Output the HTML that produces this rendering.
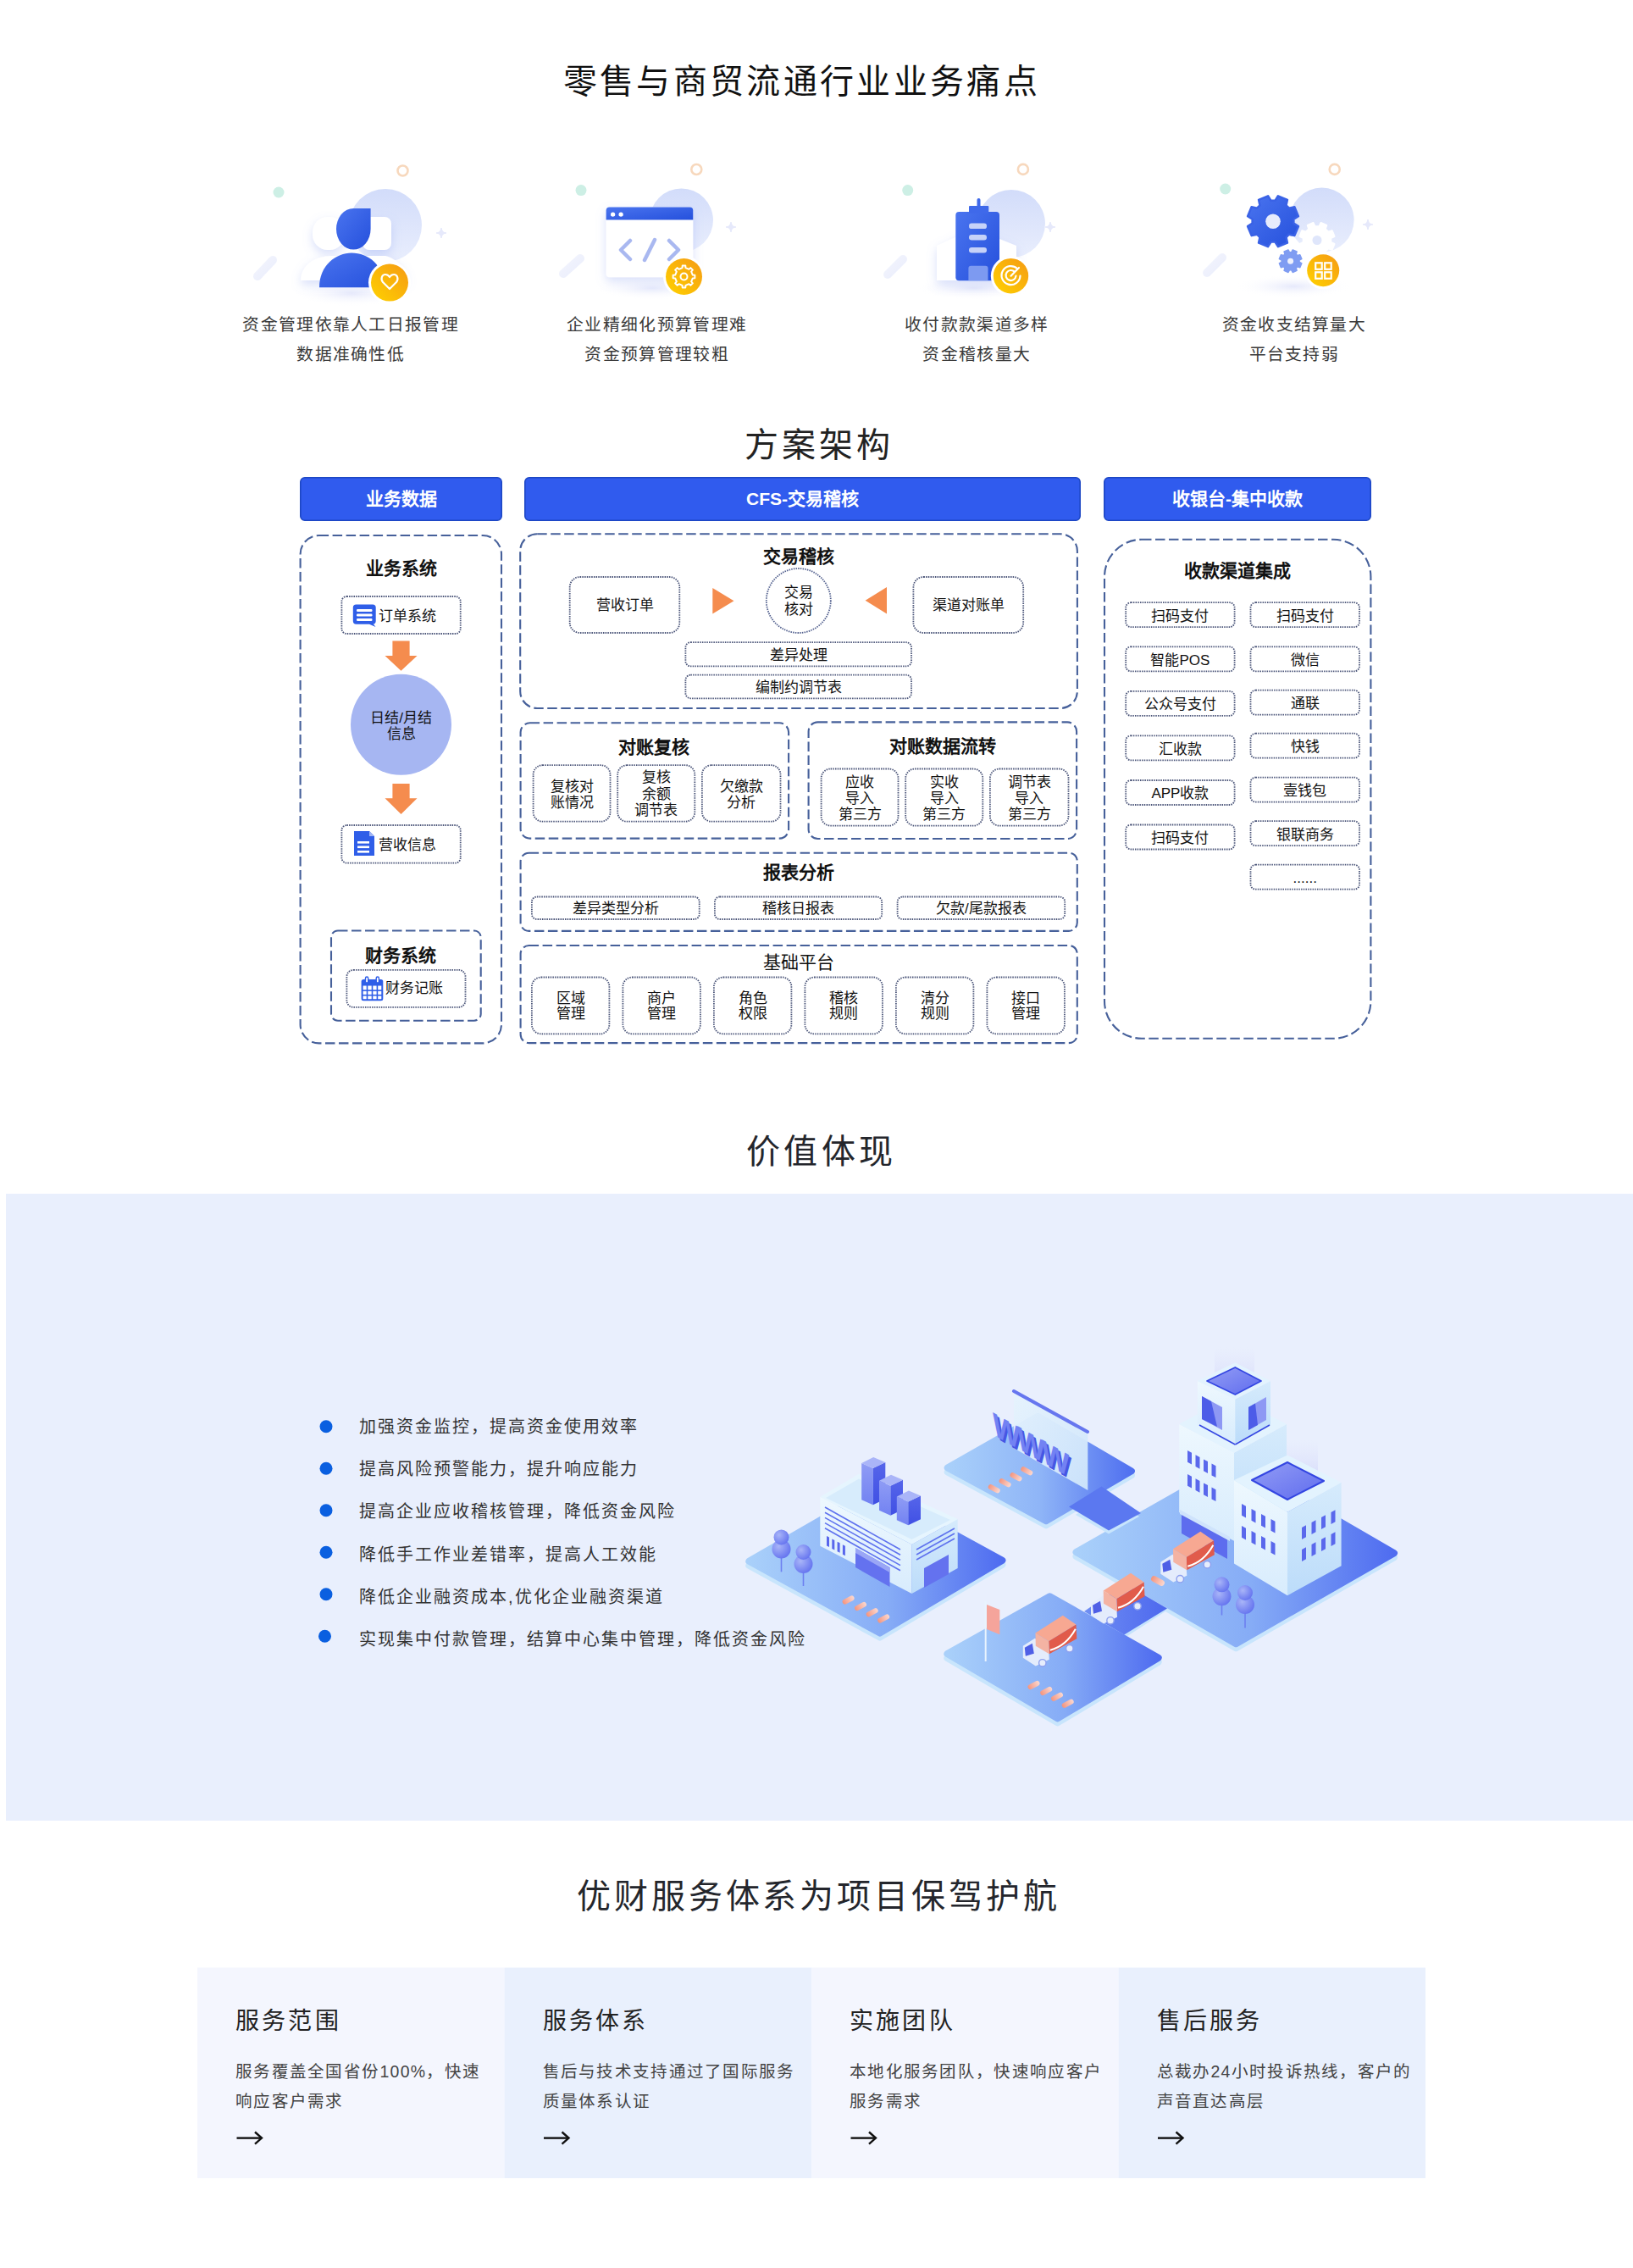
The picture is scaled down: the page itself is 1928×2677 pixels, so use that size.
<!DOCTYPE html>
<html lang="zh-CN"><head><meta charset="utf-8"><title>page</title>
<style>
html,body{margin:0;padding:0;background:#fff;}
body{width:1928px;height:2677px;position:relative;overflow:hidden;font-family:"Liberation Sans",sans-serif;}
.t{position:absolute;white-space:nowrap;}
svg.full{position:absolute;left:0;top:0;}
</style></head><body>
<svg class="full" width="1928" height="2677" viewBox="0 0 1928 2677">
<defs>
<linearGradient id="gBlue" x1="0" y1="0" x2="1" y2="1"><stop offset="0" stop-color="#4a74ef"/><stop offset="1" stop-color="#2550dc"/></linearGradient>
<linearGradient id="gOr" x1="0" y1="1" x2="1" y2="0"><stop offset="0" stop-color="#ffd200"/><stop offset="1" stop-color="#f59a14"/></linearGradient>
<linearGradient id="gPale" x1="0" y1="0" x2="0" y2="1"><stop offset="0" stop-color="#d2dcfa"/><stop offset="1" stop-color="#e9eefd"/></linearGradient>
<linearGradient id="gStreak" x1="0" y1="0" x2="1" y2="1"><stop offset="0" stop-color="#eef0fc"/><stop offset="1" stop-color="#dfe5fb"/></linearGradient>
<radialGradient id="gShadow" cx="0.5" cy="0.5" r="0.5"><stop offset="0" stop-color="#e6e9fb"/><stop offset="1" stop-color="#ffffff" stop-opacity="0"/></radialGradient>
<filter id="fSh" x="-30%" y="-30%" width="160%" height="160%"><feDropShadow dx="0" dy="5" stdDeviation="6" flood-color="#8a9ff0" flood-opacity="0.33"/></filter>
</defs><circle cx="475.5" cy="201.5" r="6" fill="none" stroke="#f7d8bd" stroke-width="2.6"/><circle cx="329" cy="227" r="6.5" fill="#cdefe5"/><circle cx="455" cy="266" r="43" fill="url(#gPale)"/><line x1="304" y1="326" x2="322" y2="307" stroke="url(#gStreak)" stroke-width="10" stroke-linecap="round" opacity="0.65"/><path d="M515,275 Q521,275 521,269 Q521,275 527,275 Q521,275 521,281 Q521,275 515,275 Z" fill="#e6e9fb" stroke="#e6e9fb" stroke-width="1.5"/><ellipse cx="415" cy="346" rx="70" ry="16" fill="url(#gShadow)"/><g filter="url(#fSh)"><path d="M355,331 C355,313 372,302 392,302 L455,302 C470,306 480,318 480,331 Z" fill="#fff"/><rect x="369" y="256" width="38" height="39" rx="18" fill="#fff"/><rect x="428" y="256" width="34" height="39" rx="8" fill="#fff"/></g><path d="M417.3,246 H437.6 V270.3 A20.3,24.3 0 0 1 417.3,294.6 A20.3,24.3 0 0 1 397,270.3 A20.3,24.3 0 0 1 417.3,246 Z" fill="url(#gBlue)"/><path d="M377,339.2 C377,313 397,298.6 415,298.6 C435,298.6 453.5,313 453.5,339.2 Z" fill="url(#gBlue)"/><circle cx="460" cy="333.6" r="25" fill="#fff"/><circle cx="460" cy="333.6" r="22" fill="url(#gOr)"/><path d="M452,333 C449,329 451,324 455,324 C458,324 460,327 460,327 C460,327 462,324 465,324 C469,324 471,329 468,333 L460,341 Z" fill="none" stroke="#fff" stroke-width="2.2" stroke-linejoin="round"/><circle cx="822.3" cy="200" r="6" fill="none" stroke="#f7d8bd" stroke-width="2.6"/><circle cx="686" cy="224.6" r="6.5" fill="#cdefe5"/><circle cx="804.5" cy="260" r="37.5" fill="url(#gPale)"/><line x1="665" y1="323" x2="685" y2="305" stroke="url(#gStreak)" stroke-width="10" stroke-linecap="round" opacity="0.65"/><path d="M857,268 Q863,268 863,262 Q863,268 869,268 Q863,268 863,274 Q863,268 857,268 Z" fill="#e6e9fb" stroke="#e6e9fb" stroke-width="1.5"/><ellipse cx="770" cy="340" rx="70" ry="14" fill="url(#gShadow)"/><rect x="715.6" y="244.5" width="102.7" height="82.8" rx="4" fill="#fff" filter="url(#fSh)"/><path d="M719.6,244.5 H814.3 A4,4 0 0 1 818.3,248.5 V259.5 H715.6 V248.5 A4,4 0 0 1 719.6,244.5 Z" fill="url(#gBlue)"/><circle cx="723.6" cy="253.2" r="2.6" fill="#fff"/><circle cx="733.1" cy="253.2" r="2.6" fill="#fff"/><path d="M744,284 L733,295 L744,306 M790,284 L801,295 L790,306 M773,283 L761,307" fill="none" stroke="#a9b8f0" stroke-width="4.5" stroke-linecap="round" stroke-linejoin="round"/><circle cx="807.5" cy="326.5" r="24.5" fill="#fff"/><circle cx="807.5" cy="326.5" r="21.5" fill="url(#gOr)"/><path d="M817.82,324.56 L820.38,324.72 L820.38,328.28 L817.82,328.44 L816.17,332.43 L817.87,334.35 L815.35,336.87 L813.43,335.17 L809.44,336.82 L809.28,339.38 L805.72,339.38 L805.56,336.82 L801.57,335.17 L799.65,336.87 L797.13,334.35 L798.83,332.43 L797.18,328.44 L794.62,328.28 L794.62,324.72 L797.18,324.56 L798.83,320.57 L797.13,318.65 L799.65,316.13 L801.57,317.83 L805.56,316.18 L805.72,313.62 L809.28,313.62 L809.44,316.18 L813.43,317.83 L815.35,316.13 L817.87,318.65 L816.17,320.57 Z" fill="none" stroke="#fff" stroke-width="2" stroke-linejoin="round"/><circle cx="807.5" cy="326.5" r="4" fill="none" stroke="#fff" stroke-width="2"/><circle cx="1207.9" cy="199.9" r="6" fill="none" stroke="#f7d8bd" stroke-width="2.6"/><circle cx="1071.7" cy="224.6" r="6.5" fill="#cdefe5"/><circle cx="1194" cy="264" r="40" fill="url(#gPale)"/><line x1="1048" y1="324" x2="1066" y2="306" stroke="url(#gStreak)" stroke-width="10" stroke-linecap="round" opacity="0.65"/><path d="M1234,268 Q1240,268 1240,262 Q1240,268 1246,268 Q1240,268 1240,274 Q1240,268 1234,268 Z" fill="#e6e9fb" stroke="#e6e9fb" stroke-width="1.5"/><ellipse cx="1150" cy="340" rx="70" ry="14" fill="url(#gShadow)"/><path d="M1106,331 V290 L1150,270 L1200,290 V331 Z" fill="#fff" filter="url(#fSh)"/><rect x="1128.3" y="250" width="51.7" height="81.2" rx="4" fill="url(#gBlue)"/><rect x="1144" y="243" width="23.3" height="9" rx="1" fill="#3f69ea"/><rect x="1153.5" y="234" width="4" height="11" rx="2" fill="#3f69ea"/><rect x="1144" y="263.6" width="21" height="6.5" rx="3.2" fill="#c6d2f8"/><rect x="1144" y="277" width="21" height="6.5" rx="3.2" fill="#c6d2f8"/><rect x="1144" y="292" width="21" height="6.5" rx="3.2" fill="#c6d2f8"/><path d="M1143.4,331.2 V316.7 A3,3 0 0 1 1146.4,313.7 H1163.5 A3,3 0 0 1 1166.5,316.7 V331.2 Z" fill="#7d9af1"/><circle cx="1193.5" cy="325.7" r="23.7" fill="#fff"/><circle cx="1193.5" cy="325.7" r="20.7" fill="url(#gOr)"/><path d="M1201,317 A11,11 0 1 0 1204.5,325.7 M1198,321 A6,6 0 1 0 1199.5,325.7 M1193.5,325.7 L1203,316" fill="none" stroke="#fff" stroke-width="2.2" stroke-linecap="round"/><circle cx="1575.7" cy="199.9" r="6" fill="none" stroke="#f7d8bd" stroke-width="2.6"/><circle cx="1446.7" cy="223" r="6.5" fill="#cdefe5"/><circle cx="1560.6" cy="259.6" r="38" fill="url(#gPale)"/><line x1="1425" y1="322" x2="1443" y2="304" stroke="url(#gStreak)" stroke-width="10" stroke-linecap="round" opacity="0.65"/><path d="M1609,265 Q1615,265 1615,259 Q1615,265 1621,265 Q1615,265 1615,271 Q1615,265 1609,265 Z" fill="#e6e9fb" stroke="#e6e9fb" stroke-width="1.5"/><ellipse cx="1527" cy="338" rx="70" ry="14" fill="url(#gShadow)"/><path d="M1571.30,286.03 L1575.51,288.00 L1572.69,294.82 L1568.32,293.24 L1564.74,296.82 L1566.32,301.19 L1559.50,304.01 L1557.53,299.80 L1552.47,299.80 L1550.50,304.01 L1543.68,301.19 L1545.26,296.82 L1541.68,293.24 L1537.31,294.82 L1534.49,288.00 L1538.70,286.03 L1538.70,280.97 L1534.49,279.00 L1537.31,272.18 L1541.68,273.76 L1545.26,270.18 L1543.68,265.81 L1550.50,262.99 L1552.47,267.20 L1557.53,267.20 L1559.50,262.99 L1566.32,265.81 L1564.74,270.18 L1568.32,273.76 L1572.69,272.18 L1575.51,279.00 L1571.30,280.97 Z" fill="#fff" stroke="#fff" stroke-width="2" stroke-linejoin="round"/><circle cx="1555" cy="283.5" r="5.5" fill="#dfe6fb"/><path d="M1527.38,263.60 L1532.91,267.15 L1528.36,278.14 L1521.94,276.74 L1518.54,280.14 L1519.94,286.56 L1508.95,291.11 L1505.40,285.58 L1500.60,285.58 L1497.05,291.11 L1486.06,286.56 L1487.46,280.14 L1484.06,276.74 L1477.64,278.14 L1473.09,267.15 L1478.62,263.60 L1478.62,258.80 L1473.09,255.25 L1477.64,244.26 L1484.06,245.66 L1487.46,242.26 L1486.06,235.84 L1497.05,231.29 L1500.60,236.82 L1505.40,236.82 L1508.95,231.29 L1519.94,235.84 L1518.54,242.26 L1521.94,245.66 L1528.36,244.26 L1532.91,255.25 L1527.38,258.80 Z" fill="url(#gBlue)" stroke="#3a62e6" stroke-width="2.5" stroke-linejoin="round"/><circle cx="1503" cy="261.2" r="8.8" fill="#e6ebfc"/><path d="M1534.05,309.23 L1536.84,310.83 L1534.82,315.70 L1531.72,314.86 L1530.26,316.32 L1531.10,319.42 L1526.23,321.44 L1524.63,318.65 L1522.57,318.65 L1520.97,321.44 L1516.10,319.42 L1516.94,316.32 L1515.48,314.86 L1512.38,315.70 L1510.36,310.83 L1513.15,309.23 L1513.15,307.17 L1510.36,305.57 L1512.38,300.70 L1515.48,301.54 L1516.94,300.08 L1516.10,296.98 L1520.97,294.96 L1522.57,297.75 L1524.63,297.75 L1526.23,294.96 L1531.10,296.98 L1530.26,300.08 L1531.72,301.54 L1534.82,300.70 L1536.84,305.57 L1534.05,307.17 Z" fill="#7f9cf2" stroke="#7f9cf2" stroke-width="1.5" stroke-linejoin="round"/><circle cx="1523.6" cy="308.2" r="3.5" fill="#eef1fd"/><circle cx="1562.2" cy="319.3" r="22" fill="#fff"/><circle cx="1562.2" cy="319.3" r="19" fill="url(#gOr)"/><rect x="1553.2" y="310.3" width="7.5" height="7.5" fill="none" stroke="#fff" stroke-width="2.2"/><rect x="1564.2" y="310.3" width="7.5" height="7.5" fill="none" stroke="#fff" stroke-width="2.2"/><rect x="1553.2" y="321.3" width="7.5" height="7.5" fill="none" stroke="#fff" stroke-width="2.2"/><rect x="1564.2" y="321.3" width="7.5" height="7.5" fill="none" stroke="#fff" stroke-width="2.2"/><rect x="354.8" y="563.8" width="237.4" height="50.4" rx="5" fill="#305bee" stroke="#1d47c4" stroke-width="1.6" /><rect x="619.8" y="563.8" width="655.4" height="50.4" rx="5" fill="#305bee" stroke="#1d47c4" stroke-width="1.6" /><rect x="1303.8" y="563.8" width="314.4" height="50.4" rx="5" fill="#305bee" stroke="#1d47c4" stroke-width="1.6" /><rect x="354.6" y="632.0" width="237.4" height="599.4" rx="22" fill="none" stroke="#46609a" stroke-width="2.1" stroke-dasharray="11.5 4.5" /><rect x="614.2" y="630.3" width="657.7" height="205.7" rx="20" fill="none" stroke="#46609a" stroke-width="2.1" stroke-dasharray="11.5 4.5" /><rect x="614.6" y="853.3" width="316.5" height="136.3" rx="11" fill="none" stroke="#46609a" stroke-width="2.1" stroke-dasharray="11.5 4.5" /><rect x="954.6" y="852.4" width="316.5" height="137.6" rx="11" fill="none" stroke="#46609a" stroke-width="2.1" stroke-dasharray="11.5 4.5" /><rect x="614.6" y="1006.7" width="657.2" height="92.2" rx="10" fill="none" stroke="#46609a" stroke-width="2.1" stroke-dasharray="11.5 4.5" /><rect x="614.6" y="1116.0" width="657.2" height="115.1" rx="10" fill="none" stroke="#46609a" stroke-width="2.1" stroke-dasharray="11.5 4.5" /><rect x="1304.0" y="636.8" width="314.4" height="589.0" rx="44" fill="none" stroke="#46609a" stroke-width="2.1" stroke-dasharray="11.5 4.5" /><rect x="391.0" y="1098.5" width="176.7" height="106.2" rx="8" fill="none" stroke="#46609a" stroke-width="2.1" stroke-dasharray="11.5 4.5" /><rect x="403.4" y="704.0" width="140.3" height="44.0" rx="6" fill="none" stroke="#4a5478" stroke-width="1.8" stroke-dasharray="1.5 1.2" /><rect x="403.4" y="974.0" width="140.3" height="44.6" rx="6" fill="none" stroke="#4a5478" stroke-width="1.8" stroke-dasharray="1.5 1.2" /><rect x="409.4" y="1144.8" width="140.1" height="44.1" rx="8" fill="none" stroke="#4a5478" stroke-width="1.8" stroke-dasharray="1.5 1.2" /><path d="M420.5,713.4 H440 A3.7,3.7 0 0 1 443.7,717.1 V733 A3.7,3.7 0 0 1 440,736.7 H441 L443.5,740 L436,736.7 H420.5 A3.7,3.7 0 0 1 416.8,733 V717.1 A3.7,3.7 0 0 1 420.5,713.4 Z" fill="#2f5ee8"/><rect x="421" y="719" width="18.5" height="3" rx="1.2" fill="#fff"/><rect x="421" y="724.5" width="18.5" height="3" rx="1.2" fill="#fff"/><rect x="421" y="730" width="18.5" height="3" rx="1.2" fill="#fff"/><path d="M418,981 H436 L442,987 V1010 H418 Z" fill="#2f5ee8"/><path d="M436,981 V987 H442" fill="#9fb4f5"/><rect x="422" y="993" width="14" height="2.6" fill="#fff"/><rect x="422" y="998.5" width="14" height="2.6" fill="#fff"/><rect x="422" y="1004" width="14" height="2.6" fill="#fff"/><rect x="427.6" y="1157" width="23.7" height="23.2" rx="1.5" fill="#fff" stroke="#2f5ee8" stroke-width="2"/><rect x="427.6" y="1157" width="23.7" height="6.5" fill="#2f5ee8"/><line x1="433.5" y1="1163" x2="433.5" y2="1180" stroke="#2f5ee8" stroke-width="1.6"/><line x1="439.5" y1="1163" x2="439.5" y2="1180" stroke="#2f5ee8" stroke-width="1.6"/><line x1="445.4" y1="1163" x2="445.4" y2="1180" stroke="#2f5ee8" stroke-width="1.6"/><line x1="427.6" y1="1169.1" x2="451.3" y2="1169.1" stroke="#2f5ee8" stroke-width="1.6"/><line x1="427.6" y1="1174.7" x2="451.3" y2="1174.7" stroke="#2f5ee8" stroke-width="1.6"/><rect x="431.5" y="1153" width="3.2" height="7" rx="1.6" fill="#fff" stroke="#2f5ee8" stroke-width="1.4"/><rect x="444.2" y="1153" width="3.2" height="7" rx="1.6" fill="#fff" stroke="#2f5ee8" stroke-width="1.4"/><path d="M463.4,756.6 H483.6 V774 H492.5 L473.5,791.8 L454.5,774 H463.4 Z" fill="#f58c4e"/><path d="M463.4,924.9 H483.6 V942.3 H492.5 L473.5,960.9 L454.5,942.3 H463.4 Z" fill="#f58c4e"/><circle cx="473.5" cy="855.3" r="59.5" fill="#a6b6f2"/><rect x="672.7" y="681.0" width="129.6" height="66.0" rx="12" fill="none" stroke="#4a5478" stroke-width="1.8" stroke-dasharray="1.5 1.2" /><rect x="1078.4" y="681.0" width="129.8" height="66.0" rx="12" fill="none" stroke="#4a5478" stroke-width="1.8" stroke-dasharray="1.5 1.2" /><circle cx="942.8" cy="709" r="38" fill="none" stroke="#52608e" stroke-width="1.8" stroke-dasharray="1.5 1.2"/><path d="M841.3,694 L866.5,709.2 L841.3,724.4 Z" fill="#f58c4e"/><path d="M1047,693 L1021.6,708.7 L1047,724.4 Z" fill="#f58c4e"/><rect x="809.4" y="758.2" width="266.6" height="28.2" rx="6" fill="none" stroke="#4a5478" stroke-width="1.8" stroke-dasharray="1.5 1.2" /><rect x="809.4" y="796.7" width="266.6" height="27.6" rx="6" fill="none" stroke="#4a5478" stroke-width="1.8" stroke-dasharray="1.5 1.2" /><rect x="629.6" y="903.2" width="90.9" height="66.5" rx="11" fill="none" stroke="#4a5478" stroke-width="1.8" stroke-dasharray="1.5 1.2" /><rect x="729.2" y="903.2" width="91.1" height="66.5" rx="11" fill="none" stroke="#4a5478" stroke-width="1.8" stroke-dasharray="1.5 1.2" /><rect x="828.9" y="903.2" width="92.6" height="66.5" rx="11" fill="none" stroke="#4a5478" stroke-width="1.8" stroke-dasharray="1.5 1.2" /><rect x="969.6" y="907.5" width="90.9" height="67.1" rx="11" fill="none" stroke="#4a5478" stroke-width="1.8" stroke-dasharray="1.5 1.2" /><rect x="1069.2" y="907.5" width="91.1" height="67.1" rx="11" fill="none" stroke="#4a5478" stroke-width="1.8" stroke-dasharray="1.5 1.2" /><rect x="1168.9" y="907.5" width="92.6" height="67.1" rx="11" fill="none" stroke="#4a5478" stroke-width="1.8" stroke-dasharray="1.5 1.2" /><rect x="627.9" y="1058.5" width="197.8" height="26.5" rx="6" fill="none" stroke="#4a5478" stroke-width="1.8" stroke-dasharray="1.5 1.2" /><rect x="843.9" y="1058.5" width="197.3" height="26.5" rx="6" fill="none" stroke="#4a5478" stroke-width="1.8" stroke-dasharray="1.5 1.2" /><rect x="1059.6" y="1058.5" width="197.6" height="26.5" rx="6" fill="none" stroke="#4a5478" stroke-width="1.8" stroke-dasharray="1.5 1.2" /><rect x="627.9" y="1153.5" width="91.5" height="66.9" rx="11" fill="none" stroke="#4a5478" stroke-width="1.8" stroke-dasharray="1.5 1.2" /><rect x="735.4" y="1153.5" width="91.5" height="66.9" rx="11" fill="none" stroke="#4a5478" stroke-width="1.8" stroke-dasharray="1.5 1.2" /><rect x="842.9" y="1153.5" width="91.5" height="66.9" rx="11" fill="none" stroke="#4a5478" stroke-width="1.8" stroke-dasharray="1.5 1.2" /><rect x="950.4" y="1153.5" width="91.5" height="66.9" rx="11" fill="none" stroke="#4a5478" stroke-width="1.8" stroke-dasharray="1.5 1.2" /><rect x="1057.9" y="1153.5" width="91.5" height="66.9" rx="11" fill="none" stroke="#4a5478" stroke-width="1.8" stroke-dasharray="1.5 1.2" /><rect x="1165.4" y="1153.5" width="91.5" height="66.9" rx="11" fill="none" stroke="#4a5478" stroke-width="1.8" stroke-dasharray="1.5 1.2" /><rect x="1329.2" y="711.2" width="128.4" height="29.0" rx="6" fill="none" stroke="#4a5478" stroke-width="1.8" stroke-dasharray="1.5 1.2" /><rect x="1329.2" y="763.3" width="128.4" height="29.0" rx="6" fill="none" stroke="#4a5478" stroke-width="1.8" stroke-dasharray="1.5 1.2" /><rect x="1329.2" y="815.8" width="128.4" height="29.0" rx="6" fill="none" stroke="#4a5478" stroke-width="1.8" stroke-dasharray="1.5 1.2" /><rect x="1329.2" y="868.3" width="128.4" height="29.0" rx="6" fill="none" stroke="#4a5478" stroke-width="1.8" stroke-dasharray="1.5 1.2" /><rect x="1329.2" y="921.0" width="128.4" height="29.0" rx="6" fill="none" stroke="#4a5478" stroke-width="1.8" stroke-dasharray="1.5 1.2" /><rect x="1329.2" y="973.5" width="128.4" height="29.0" rx="6" fill="none" stroke="#4a5478" stroke-width="1.8" stroke-dasharray="1.5 1.2" /><rect x="1476.5" y="711.2" width="128.5" height="29.0" rx="6" fill="none" stroke="#4a5478" stroke-width="1.8" stroke-dasharray="1.5 1.2" /><rect x="1476.5" y="763.3" width="128.5" height="29.0" rx="6" fill="none" stroke="#4a5478" stroke-width="1.8" stroke-dasharray="1.5 1.2" /><rect x="1476.5" y="814.7" width="128.5" height="29.0" rx="6" fill="none" stroke="#4a5478" stroke-width="1.8" stroke-dasharray="1.5 1.2" /><rect x="1476.5" y="865.7" width="128.5" height="29.0" rx="6" fill="none" stroke="#4a5478" stroke-width="1.8" stroke-dasharray="1.5 1.2" /><rect x="1476.5" y="917.6" width="128.5" height="29.0" rx="6" fill="none" stroke="#4a5478" stroke-width="1.8" stroke-dasharray="1.5 1.2" /><rect x="1476.5" y="969.2" width="128.5" height="29.0" rx="6" fill="none" stroke="#4a5478" stroke-width="1.8" stroke-dasharray="1.5 1.2" /><rect x="1476.5" y="1020.7" width="128.5" height="29.0" rx="6" fill="none" stroke="#4a5478" stroke-width="1.8" stroke-dasharray="1.5 1.2" /><rect x="7" y="1409" width="1921" height="740" fill="#e9effd"/><circle cx="385" cy="1683.8" r="7.5" fill="#0a5fe0"/><circle cx="385" cy="1733.3" r="7.5" fill="#0a5fe0"/><circle cx="385" cy="1782.8" r="7.5" fill="#0a5fe0"/><circle cx="385" cy="1832.3" r="7.5" fill="#0a5fe0"/><circle cx="385" cy="1881.8" r="7.5" fill="#0a5fe0"/><circle cx="383.5" cy="1931.3" r="7.5" fill="#0a5fe0"/><defs>
<linearGradient id="plat" x1="0" y1="0" x2="1" y2="0"><stop offset="0" stop-color="#a9d0fa"/><stop offset="0.55" stop-color="#86acf6"/><stop offset="1" stop-color="#4f6cf0"/></linearGradient>
<linearGradient id="platB" x1="0" y1="0" x2="1" y2="0"><stop offset="0" stop-color="#a9d0fa"/><stop offset="0.5" stop-color="#8fb5f7"/><stop offset="1" stop-color="#5070f0"/></linearGradient>
<linearGradient id="band" x1="0" y1="0" x2="1" y2="0"><stop offset="0" stop-color="#6f8ef3"/><stop offset="1" stop-color="#4d68ee"/></linearGradient>
<linearGradient id="wallL" x1="0" y1="0" x2="0" y2="1"><stop offset="0" stop-color="#eef8fe"/><stop offset="1" stop-color="#d8ecfd"/></linearGradient>
<linearGradient id="wallR" x1="0" y1="0" x2="0" y2="1"><stop offset="0" stop-color="#d6ebfc"/><stop offset="1" stop-color="#bcdcfa"/></linearGradient>
<linearGradient id="barL" x1="0" y1="0" x2="0" y2="1"><stop offset="0" stop-color="#8f9cf5"/><stop offset="1" stop-color="#7282f2"/></linearGradient>
<linearGradient id="barR" x1="0" y1="0" x2="0" y2="1"><stop offset="0" stop-color="#5665ea"/><stop offset="1" stop-color="#4050e4"/></linearGradient>
<linearGradient id="beam" x1="0" y1="0" x2="0" y2="1"><stop offset="0" stop-color="#dfe2fb" stop-opacity="0"/><stop offset="1" stop-color="#d3d7fa" stop-opacity="0.85"/></linearGradient>
<linearGradient id="glow" x1="0" y1="0" x2="1" y2="1"><stop offset="0" stop-color="#939df5"/><stop offset="1" stop-color="#5f6cee"/></linearGradient>
<linearGradient id="glass" x1="0" y1="0" x2="1" y2="1"><stop offset="0" stop-color="#e6f3fd"/><stop offset="1" stop-color="#cfe6fb"/></linearGradient>
<linearGradient id="pill" x1="0" y1="0" x2="1" y2="0"><stop offset="0" stop-color="#f4937c"/><stop offset="1" stop-color="#fbd9d2"/></linearGradient>
<radialGradient id="tree" cx="0.35" cy="0.35" r="0.7"><stop offset="0" stop-color="#a9b5f8"/><stop offset="1" stop-color="#6574ef"/></radialGradient>
</defs><polygon points="1270.5,1837.0 1459.3,1729.8 1646.0,1838.3 1459.3,1945.2" fill="#c8e5fc" stroke="#c8e5fc" stroke-width="8" stroke-linejoin="round"/><polygon points="1270.5,1832.0 1459.3,1724.8 1646.0,1833.3 1459.3,1940.2" fill="url(#plat)" stroke="url(#plat)" stroke-width="8" stroke-linejoin="round"/><polygon points="1270.5,1832.0 1459.3,1724.8 1646.0,1833.3 1459.3,1940.2" fill="none" stroke="#bfe0fc" stroke-width="1" stroke-linejoin="round" opacity="0"/><polygon points="1118.7,1737.4 1225.4,1676.8 1335.9,1741.4 1235.0,1800.2" fill="#c8e5fc" stroke="#c8e5fc" stroke-width="8" stroke-linejoin="round"/><polygon points="1118.7,1732.4 1225.4,1671.8 1335.9,1736.4 1235.0,1795.2" fill="url(#platB)" stroke="url(#platB)" stroke-width="8" stroke-linejoin="round"/><polygon points="1118.7,1732.4 1225.4,1671.8 1335.9,1736.4 1235.0,1795.2" fill="none" stroke="#bfe0fc" stroke-width="1" stroke-linejoin="round" opacity="0"/><polygon points="1269.8,1787.9 1308.3,1763.9 1345.0,1790.0 1309.0,1810.6" fill="#c8e5fc" /><polygon points="1262.0,1778.5 1300.5,1754.5 1347.0,1786.0 1309.0,1806.6" fill="#5b78f0" /><polygon points="1280.0,1906.0 1327.3,1873.0 1376.7,1901.5 1327.3,1933.5" fill="#c5e3fc" /><polygon points="1118.4,1957.1 1239.4,1889.2 1367.7,1961.7 1248.6,2033.4" fill="#c8e5fc" stroke="#c8e5fc" stroke-width="8" stroke-linejoin="round"/><polygon points="1118.4,1952.1 1239.4,1884.2 1367.7,1956.7 1248.6,2028.4" fill="url(#plat)" stroke="url(#plat)" stroke-width="8" stroke-linejoin="round"/><polygon points="1118.4,1952.1 1239.4,1884.2 1367.7,1956.7 1248.6,2028.4" fill="none" stroke="#bfe0fc" stroke-width="1" stroke-linejoin="round" opacity="0"/><polygon points="1280.0,1902.0 1327.3,1869.0 1378.0,1898.5 1327.3,1929.5" fill="url(#band)" /><polygon points="884.3,1847.8 1030.8,1763.3 1183.4,1846.8 1038.8,1932.6" fill="#c8e5fc" stroke="#c8e5fc" stroke-width="8" stroke-linejoin="round"/><polygon points="884.3,1842.8 1030.8,1758.3 1183.4,1841.8 1038.8,1927.6" fill="url(#plat)" stroke="url(#plat)" stroke-width="8" stroke-linejoin="round"/><polygon points="884.3,1842.8 1030.8,1758.3 1183.4,1841.8 1038.8,1927.6" fill="none" stroke="#bfe0fc" stroke-width="1" stroke-linejoin="round" opacity="0"/><rect x="994.1" y="1885.6" width="15" height="6" rx="3.0" transform="rotate(-28 1001.6 1888.6)" fill="url(#pill)"/><rect x="1008.5" y="1893.0" width="15" height="6" rx="3.0" transform="rotate(-28 1016 1896)" fill="url(#pill)"/><rect x="1022.2" y="1900.2" width="15" height="6" rx="3.0" transform="rotate(-28 1029.7 1903.2)" fill="url(#pill)"/><rect x="1035.7" y="1907.5" width="15" height="6" rx="3.0" transform="rotate(-28 1043.2 1910.5)" fill="url(#pill)"/><rect x="1166.2" y="1754.2" width="15" height="6" rx="3.0" transform="rotate(28 1173.7 1757.2)" fill="url(#pill)"/><rect x="1179.1" y="1747.2" width="15" height="6" rx="3.0" transform="rotate(28 1186.6 1750.2)" fill="url(#pill)"/><rect x="1192.0" y="1740.2" width="15" height="6" rx="3.0" transform="rotate(28 1199.5 1743.2)" fill="url(#pill)"/><rect x="1204.8" y="1733.2" width="15" height="6" rx="3.0" transform="rotate(28 1212.3 1736.2)" fill="url(#pill)"/><rect x="1213.0" y="1986.1" width="15" height="6" rx="3.0" transform="rotate(-28 1220.5 1989.1)" fill="url(#pill)"/><rect x="1227.7" y="1993.0" width="15" height="6" rx="3.0" transform="rotate(-28 1235.2 1996)" fill="url(#pill)"/><rect x="1240.5" y="1999.8" width="15" height="6" rx="3.0" transform="rotate(-28 1248 2002.8)" fill="url(#pill)"/><rect x="1253.2" y="2007.7" width="15" height="6" rx="3.0" transform="rotate(-28 1260.7 2010.7)" fill="url(#pill)"/><rect x="1358.5" y="1862.5" width="17" height="7" rx="3.5" transform="rotate(28 1367 1866)" fill="url(#pill)"/><polygon points="968.3,1766.8 1076.5,1823.0 1076.5,1881.0 968.3,1824.8" fill="url(#wallL)" /><polygon points="1076.5,1823.0 1130.7,1792.9 1130.7,1850.9 1076.5,1881.0" fill="url(#wallR)" /><polygon points="968.3,1766.8 1014.0,1739.8 1130.7,1792.9 1076.5,1823.0" fill="#e6f5fe" /><polygon points="975.0,1768.0 1014.0,1745.5 1122.0,1794.0 1076.5,1817.0" fill="#d7ecfc" /><line x1="974" y1="1779.0" x2="1063" y2="1829.0" stroke="#5f72ee" stroke-width="1.6"/><line x1="974" y1="1785.2" x2="1063" y2="1835.2" stroke="#5f72ee" stroke-width="1.6"/><line x1="974" y1="1791.4" x2="1063" y2="1841.4" stroke="#5f72ee" stroke-width="1.6"/><line x1="974" y1="1797.6" x2="1063" y2="1847.6" stroke="#5f72ee" stroke-width="1.6"/><line x1="974" y1="1803.8" x2="1063" y2="1853.8" stroke="#5f72ee" stroke-width="1.6"/><line x1="1082" y1="1829.0" x2="1127" y2="1804.0" stroke="#5f72ee" stroke-width="1.6"/><line x1="1082" y1="1835.0" x2="1127" y2="1810.0" stroke="#5f72ee" stroke-width="1.6"/><line x1="1082" y1="1841.0" x2="1127" y2="1816.0" stroke="#5f72ee" stroke-width="1.6"/><polygon points="976.0,1813.0 979.0,1814.5 979.0,1826.0 976.0,1824.5" fill="#5866ec" /><polygon points="982.3,1816.4 985.3,1817.9 985.3,1829.4 982.3,1827.9" fill="#5866ec" /><polygon points="988.6,1819.8 991.6,1821.3 991.6,1832.8 988.6,1831.3" fill="#5866ec" /><polygon points="994.9,1823.2 997.9,1824.7 997.9,1836.2 994.9,1834.7" fill="#5866ec" /><polygon points="1010.0,1827.0 1050.5,1850.0 1050.5,1873.0 1010.0,1850.0" fill="#6472ef" /><polygon points="1010.0,1827.0 1050.5,1850.0 1050.5,1856.0 1010.0,1833.0" fill="#9aa6f6" /><polygon points="1091.0,1851.0 1120.0,1835.0 1120.0,1858.0 1091.0,1874.0" fill="#6472ef" /><polygon points="1017.2,1727.0 1030.7,1733.0 1030.7,1776.2 1017.2,1770.2" fill="url(#barL)" /><polygon points="1030.7,1733.0 1045.3,1726.0 1045.3,1769.2 1030.7,1776.2" fill="url(#barR)" /><polygon points="1017.2,1727.0 1031.2,1720.0 1045.3,1726.0 1030.7,1733.0" fill="#aab5f8" /><polygon points="1038.0,1747.8 1051.4,1753.8 1051.4,1788.7 1038.0,1782.7" fill="url(#barL)" /><polygon points="1051.4,1753.8 1066.0,1746.8 1066.0,1781.7 1051.4,1788.7" fill="url(#barR)" /><polygon points="1038.0,1747.8 1052.0,1740.8 1066.0,1746.8 1051.4,1753.8" fill="#aab5f8" /><polygon points="1058.8,1766.6 1072.3,1772.6 1072.3,1800.2 1058.8,1794.2" fill="url(#barL)" /><polygon points="1072.3,1772.6 1087.0,1765.6 1087.0,1793.2 1072.3,1800.2" fill="url(#barR)" /><polygon points="1058.8,1766.6 1072.9,1759.6 1087.0,1765.6 1072.3,1772.6" fill="#aab5f8" /><polygon points="1196.9,1641.4 1284.3,1689.4 1284.3,1758.9 1196.9,1709.2" fill="url(#glass)" opacity="0.95"/><line x1="1197" y1="1642" x2="1284" y2="1690" stroke="#6676ef" stroke-width="4" stroke-linecap="round"/><g transform="translate(1172,1664) skewY(30)"><text x="3" y="31" font-family="Liberation Sans" font-weight="bold" font-size="38" fill="#4656e4" transform="scale(0.9,1)">W</text><text x="0" y="29" font-family="Liberation Sans" font-weight="bold" font-size="38" fill="#7282f3" transform="scale(0.9,1)">W</text></g><g transform="translate(1201,1680) skewY(30)"><text x="3" y="31" font-family="Liberation Sans" font-weight="bold" font-size="38" fill="#4656e4" transform="scale(0.9,1)">W</text><text x="0" y="29" font-family="Liberation Sans" font-weight="bold" font-size="38" fill="#7282f3" transform="scale(0.9,1)">W</text></g><g transform="translate(1230,1696) skewY(30)"><text x="3" y="31" font-family="Liberation Sans" font-weight="bold" font-size="38" fill="#4656e4" transform="scale(0.9,1)">W</text><text x="0" y="29" font-family="Liberation Sans" font-weight="bold" font-size="38" fill="#7282f3" transform="scale(0.9,1)">W</text></g><polygon points="1434.0,1590.0 1481.0,1590.0 1481.0,1640.0 1434.0,1640.0" fill="url(#beam)" /><polygon points="1486.0,1700.0 1556.0,1700.0 1556.0,1745.0 1486.0,1745.0" fill="url(#beam)" /><polygon points="1392.2,1681.0 1457.0,1714.7 1457.0,1818.7 1392.2,1785.0" fill="url(#wallL)" /><polygon points="1457.0,1714.7 1519.0,1681.0 1519.0,1785.0 1457.0,1818.7" fill="url(#wallR)" /><polygon points="1392.2,1681.0 1454.2,1647.3 1519.0,1681.0 1457.0,1714.7" fill="#e3f3fe" /><polygon points="1395.0,1787.0 1449.0,1817.0 1449.0,1840.0 1395.0,1810.0" fill="#5d6cee" /><polygon points="1393.0,1782.0 1452.0,1814.0 1452.0,1819.0 1393.0,1787.0" fill="#cfe3fc" /><polygon points="1402.0,1712.0 1407.0,1714.7 1407.0,1728.5 1402.0,1725.8" fill="#5a68ec" /><polygon points="1411.5,1717.2 1416.5,1719.9 1416.5,1733.7 1411.5,1731.0" fill="#5a68ec" /><polygon points="1421.0,1722.4 1426.0,1725.1 1426.0,1738.9 1421.0,1736.2" fill="#5a68ec" /><polygon points="1430.5,1727.6 1435.5,1730.3 1435.5,1744.1 1430.5,1741.4" fill="#5a68ec" /><polygon points="1402.0,1740.0 1407.0,1742.7 1407.0,1756.5 1402.0,1753.8" fill="#5a68ec" /><polygon points="1411.5,1745.2 1416.5,1747.9 1416.5,1761.7 1411.5,1759.0" fill="#5a68ec" /><polygon points="1421.0,1750.4 1426.0,1753.1 1426.0,1766.9 1421.0,1764.2" fill="#5a68ec" /><polygon points="1430.5,1755.6 1435.5,1758.3 1435.5,1772.1 1430.5,1769.4" fill="#5a68ec" /><polygon points="1413.8,1629.9 1458.3,1651.4 1458.3,1703.4 1413.8,1681.9" fill="url(#wallL)" /><polygon points="1458.3,1651.4 1500.0,1629.9 1500.0,1681.9 1458.3,1703.4" fill="url(#wallR)" /><polygon points="1413.8,1629.9 1458.3,1608.3 1500.0,1629.9 1458.3,1651.4" fill="#e3f3fe" /><polygon points="1425.0,1630.0 1458.3,1614.0 1489.0,1630.0 1458.3,1646.0" fill="url(#glow)" stroke="#3446e2" stroke-width="1.8" stroke-linejoin="round"/><polygon points="1419.0,1648.0 1443.0,1661.0 1443.0,1688.0 1419.0,1675.0" fill="#8e98f4" /><polygon points="1419.0,1648.0 1430.0,1654.0 1437.0,1684.0 1419.0,1675.0" fill="#4d5ce8" /><polygon points="1474.0,1661.0 1495.0,1649.0 1495.0,1676.0 1474.0,1688.0" fill="#8e98f4" /><polygon points="1474.0,1661.0 1482.0,1656.5 1485.0,1682.0 1474.0,1688.0" fill="#4d5ce8" /><line x1="1416" y1="1682" x2="1458.3" y2="1705" stroke="#3446e2" stroke-width="1.5"/><line x1="1458.3" y1="1705" x2="1499" y2="1682" stroke="#3446e2" stroke-width="1.5"/><polygon points="1457.0,1747.0 1520.0,1784.8 1520.0,1883.2 1457.0,1845.4" fill="url(#wallL)" /><polygon points="1520.0,1784.8 1583.6,1749.8 1583.6,1848.2 1520.0,1883.2" fill="url(#wallR)" /><polygon points="1457.0,1747.0 1520.0,1717.4 1583.6,1749.8 1520.0,1784.8" fill="#e3f3fe" /><polygon points="1478.0,1747.0 1520.0,1726.0 1563.0,1748.0 1520.0,1770.0" fill="url(#glow)" stroke="#3446e2" stroke-width="2" stroke-linejoin="round"/><polygon points="1466.0,1775.0 1471.0,1777.7 1471.0,1791.5 1466.0,1788.8" fill="#5a68ec" /><polygon points="1537.0,1803.0 1542.0,1800.3 1542.0,1814.3 1537.0,1817.0" fill="#5a68ec" /><polygon points="1477.5,1781.0 1482.5,1783.7 1482.5,1797.5 1477.5,1794.8" fill="#5a68ec" /><polygon points="1548.5,1797.0 1553.5,1794.3 1553.5,1808.3 1548.5,1811.0" fill="#5a68ec" /><polygon points="1489.0,1787.0 1494.0,1789.7 1494.0,1803.5 1489.0,1800.8" fill="#5a68ec" /><polygon points="1560.0,1791.0 1565.0,1788.3 1565.0,1802.3 1560.0,1805.0" fill="#5a68ec" /><polygon points="1500.5,1793.0 1505.5,1795.7 1505.5,1809.5 1500.5,1806.8" fill="#5a68ec" /><polygon points="1571.5,1785.0 1576.5,1782.3 1576.5,1796.3 1571.5,1799.0" fill="#5a68ec" /><polygon points="1466.0,1801.0 1471.0,1803.7 1471.0,1817.5 1466.0,1814.8" fill="#5a68ec" /><polygon points="1537.0,1829.0 1542.0,1826.3 1542.0,1840.3 1537.0,1843.0" fill="#5a68ec" /><polygon points="1477.5,1807.0 1482.5,1809.7 1482.5,1823.5 1477.5,1820.8" fill="#5a68ec" /><polygon points="1548.5,1823.0 1553.5,1820.3 1553.5,1834.3 1548.5,1837.0" fill="#5a68ec" /><polygon points="1489.0,1813.0 1494.0,1815.7 1494.0,1829.5 1489.0,1826.8" fill="#5a68ec" /><polygon points="1560.0,1817.0 1565.0,1814.3 1565.0,1828.3 1560.0,1831.0" fill="#5a68ec" /><polygon points="1500.5,1819.0 1505.5,1821.7 1505.5,1835.5 1500.5,1832.8" fill="#5a68ec" /><polygon points="1571.5,1811.0 1576.5,1808.3 1576.5,1822.3 1571.5,1825.0" fill="#5a68ec" /><polygon points="1207.8,1942.8 1221.8,1933.8 1237.8,1943.8 1238.8,1958.8 1222.8,1966.6 1207.8,1956.8" fill="#e4ecfc" /><polygon points="1209.8,1944.8 1218.8,1939.8 1220.8,1951.8 1210.8,1954.8" fill="#4f5fe6" /><polygon points="1222.5,1927.4 1254.8,1906.8 1270.5,1917.6 1238.2,1937.2" fill="#f7a892" /><polygon points="1238.2,1937.2 1270.5,1917.6 1271.3,1934.3 1238.8,1952.3" fill="#e15b4b" /><polygon points="1222.5,1927.4 1238.2,1937.2 1238.8,1952.3 1222.8,1942.8" fill="#f4b3a3" /><path d="M1239.8,1947.8 Q1258.8,1942.8 1269.8,1922.8" fill="none" stroke="#fff" stroke-width="2"/><circle cx="1230.8" cy="1962.8" r="4.2" fill="#e6edfc" stroke="#8ea0ef" stroke-width="1.4"/><circle cx="1262.8" cy="1945.8" r="4.2" fill="#e6edfc" stroke="#8ea0ef" stroke-width="1.4"/><polygon points="1288.0,1892.8 1302.0,1883.8 1318.0,1893.8 1319.0,1908.8 1303.0,1916.6 1288.0,1906.8" fill="#e4ecfc" /><polygon points="1290.0,1894.8 1299.0,1889.8 1301.0,1901.8 1291.0,1904.8" fill="#4f5fe6" /><polygon points="1302.7,1877.4 1335.0,1856.8 1350.7,1867.6 1318.4,1887.2" fill="#f7a892" /><polygon points="1318.4,1887.2 1350.7,1867.6 1351.5,1884.3 1319.0,1902.3" fill="#e15b4b" /><polygon points="1302.7,1877.4 1318.4,1887.2 1319.0,1902.3 1303.0,1892.8" fill="#f4b3a3" /><path d="M1320,1897.8 Q1339,1892.8 1350,1872.8" fill="none" stroke="#fff" stroke-width="2"/><circle cx="1311" cy="1912.8" r="4.2" fill="#e6edfc" stroke="#8ea0ef" stroke-width="1.4"/><circle cx="1343" cy="1895.8" r="4.2" fill="#e6edfc" stroke="#8ea0ef" stroke-width="1.4"/><polygon points="1370.3,1843.7 1384.3,1834.7 1400.3,1844.7 1401.3,1859.7 1385.3,1867.5 1370.3,1857.7" fill="#e4ecfc" /><polygon points="1372.3,1845.7 1381.3,1840.7 1383.3,1852.7 1373.3,1855.7" fill="#4f5fe6" /><polygon points="1385.0,1828.3 1417.3,1807.7 1433.0,1818.5 1400.7,1838.1" fill="#f7a892" /><polygon points="1400.7,1838.1 1433.0,1818.5 1433.8,1835.2 1401.3,1853.2" fill="#e15b4b" /><polygon points="1385.0,1828.3 1400.7,1838.1 1401.3,1853.2 1385.3,1843.7" fill="#f4b3a3" /><path d="M1402.3,1848.7 Q1421.3,1843.7 1432.3,1823.7" fill="none" stroke="#fff" stroke-width="2"/><circle cx="1393.3" cy="1863.7" r="4.2" fill="#e6edfc" stroke="#8ea0ef" stroke-width="1.4"/><circle cx="1425.3" cy="1846.7" r="4.2" fill="#e6edfc" stroke="#8ea0ef" stroke-width="1.4"/><line x1="1163.7" y1="1890" x2="1163.7" y2="1961" stroke="#e9f3fe" stroke-width="2"/><polygon points="1165.0,1894.0 1180.3,1900.0 1180.3,1929.3 1165.0,1923.0" fill="#f5a49b" /><line x1="922.5" y1="1825.4" x2="922.5" y2="1855.3" stroke="#6d7ff0" stroke-width="1.6"/><circle cx="922.5" cy="1828.4" r="11" fill="url(#tree)"/><circle cx="922.5" cy="1814.4" r="9" fill="url(#tree)"/><line x1="948.5" y1="1843" x2="948.5" y2="1872" stroke="#6d7ff0" stroke-width="1.6"/><circle cx="948.5" cy="1846" r="11" fill="url(#tree)"/><circle cx="948.5" cy="1832" r="9" fill="url(#tree)"/><line x1="1442.5" y1="1881.3" x2="1442.5" y2="1906.5" stroke="#6d7ff0" stroke-width="1.6"/><circle cx="1442.5" cy="1884.3" r="11" fill="url(#tree)"/><circle cx="1442.5" cy="1870.3" r="9" fill="url(#tree)"/><line x1="1470" y1="1891" x2="1470" y2="1921.5" stroke="#6d7ff0" stroke-width="1.6"/><circle cx="1470" cy="1894" r="11" fill="url(#tree)"/><circle cx="1470" cy="1880" r="9" fill="url(#tree)"/><rect x="233.0" y="2322.5" width="362.5" height="248.5" rx="0" fill="#f4f6fe" stroke="none" stroke-width="1" /><path d="M279.5,2523.6 H308.0" stroke="#111" stroke-width="2.4"/><path d="M301.0,2516.5 L309.0,2523.6 L301.0,2530.7" fill="none" stroke="#111" stroke-width="2.4" stroke-linejoin="miter"/><rect x="595.5" y="2322.5" width="362.5" height="248.5" rx="0" fill="#e9f0fd" stroke="none" stroke-width="1" /><path d="M642.0,2523.6 H670.5" stroke="#111" stroke-width="2.4"/><path d="M663.5,2516.5 L671.5,2523.6 L663.5,2530.7" fill="none" stroke="#111" stroke-width="2.4" stroke-linejoin="miter"/><rect x="958.0" y="2322.5" width="362.5" height="248.5" rx="0" fill="#f4f6fe" stroke="none" stroke-width="1" /><path d="M1004.5,2523.6 H1033.0" stroke="#111" stroke-width="2.4"/><path d="M1026.0,2516.5 L1034.0,2523.6 L1026.0,2530.7" fill="none" stroke="#111" stroke-width="2.4" stroke-linejoin="miter"/><rect x="1320.5" y="2322.5" width="362.5" height="248.5" rx="0" fill="#e9f0fd" stroke="none" stroke-width="1" /><path d="M1367.0,2523.6 H1395.5" stroke="#111" stroke-width="2.4"/><path d="M1388.5,2516.5 L1396.5,2523.6 L1388.5,2530.7" fill="none" stroke="#111" stroke-width="2.4" stroke-linejoin="miter"/>
</svg>
<div class="t" style="left:664.50px;top:76.00px;font-size:40px;line-height:40px;color:#111;font-weight:350;letter-spacing:3.35px;">零售与商贸流通行业业务痛点</div><div class="t" style="left:214.15px;top:373.61px;width:400px;text-align:center;font-size:19.8px;line-height:19.8px;color:#3a3a3a;font-weight:normal;letter-spacing:1.3px;">资金管理依靠人工日报管理</div><div class="t" style="left:214.15px;top:408.71px;width:400px;text-align:center;font-size:19.8px;line-height:19.8px;color:#3a3a3a;font-weight:normal;letter-spacing:1.3px;">数据准确性低</div><div class="t" style="left:575.65px;top:373.61px;width:400px;text-align:center;font-size:19.8px;line-height:19.8px;color:#3a3a3a;font-weight:normal;letter-spacing:1.3px;">企业精细化预算管理难</div><div class="t" style="left:575.65px;top:408.71px;width:400px;text-align:center;font-size:19.8px;line-height:19.8px;color:#3a3a3a;font-weight:normal;letter-spacing:1.3px;">资金预算管理较粗</div><div class="t" style="left:953.35px;top:373.61px;width:400px;text-align:center;font-size:19.8px;line-height:19.8px;color:#3a3a3a;font-weight:normal;letter-spacing:1.3px;">收付款款渠道多样</div><div class="t" style="left:953.35px;top:408.71px;width:400px;text-align:center;font-size:19.8px;line-height:19.8px;color:#3a3a3a;font-weight:normal;letter-spacing:1.3px;">资金稽核量大</div><div class="t" style="left:1327.85px;top:373.61px;width:400px;text-align:center;font-size:19.8px;line-height:19.8px;color:#3a3a3a;font-weight:normal;letter-spacing:1.3px;">资金收支结算量大</div><div class="t" style="left:1327.85px;top:408.71px;width:400px;text-align:center;font-size:19.8px;line-height:19.8px;color:#3a3a3a;font-weight:normal;letter-spacing:1.3px;">平台支持弱</div><div class="t" style="left:879.00px;top:504.60px;font-size:40px;line-height:40px;color:#222;font-weight:350;letter-spacing:4px;">方案架构</div><div class="t" style="left:273.50px;top:578.37px;width:400px;text-align:center;font-size:21px;line-height:21px;color:#fff;font-weight:bold;letter-spacing:0px;">业务数据</div><div class="t" style="left:747.50px;top:578.37px;width:400px;text-align:center;font-size:21px;line-height:21px;color:#fff;font-weight:bold;letter-spacing:0px;">CFS-交易稽核</div><div class="t" style="left:1261.00px;top:578.37px;width:400px;text-align:center;font-size:21px;line-height:21px;color:#fff;font-weight:bold;letter-spacing:0px;">收银台-集中收款</div><div class="t" style="left:273.50px;top:660.37px;width:400px;text-align:center;font-size:21px;line-height:21px;color:#111;font-weight:bold;letter-spacing:0px;">业务系统</div><div class="t" style="left:742.70px;top:646.17px;width:400px;text-align:center;font-size:21px;line-height:21px;color:#111;font-weight:bold;letter-spacing:0px;">交易稽核</div><div class="t" style="left:572.30px;top:871.37px;width:400px;text-align:center;font-size:21px;line-height:21px;color:#111;font-weight:bold;letter-spacing:0px;">对账复核</div><div class="t" style="left:912.50px;top:870.37px;width:400px;text-align:center;font-size:21px;line-height:21px;color:#111;font-weight:bold;letter-spacing:0px;">对账数据流转</div><div class="t" style="left:743.00px;top:1019.37px;width:400px;text-align:center;font-size:21px;line-height:21px;color:#111;font-weight:bold;letter-spacing:0px;">报表分析</div><div class="t" style="left:743.00px;top:1125.37px;width:400px;text-align:center;font-size:21px;line-height:21px;color:#111;font-weight:normal;letter-spacing:0px;">基础平台</div><div class="t" style="left:1260.50px;top:662.97px;width:400px;text-align:center;font-size:21px;line-height:21px;color:#111;font-weight:bold;letter-spacing:0px;">收款渠道集成</div><div class="t" style="left:273.40px;top:1117.07px;width:400px;text-align:center;font-size:21px;line-height:21px;color:#111;font-weight:bold;letter-spacing:0px;">财务系统</div><div class="t" style="left:280.50px;top:718.04px;font-size:17px;line-height:19.5px;color:#111;font-weight:500;letter-spacing:0px;width:400px;text-align:center;">订单系统</div><div class="t" style="left:281.00px;top:988.04px;font-size:17px;line-height:19.5px;color:#111;font-weight:500;letter-spacing:0px;width:400px;text-align:center;">营收信息</div><div class="t" style="left:289.30px;top:1157.44px;font-size:17px;line-height:19.5px;color:#111;font-weight:500;letter-spacing:0px;width:400px;text-align:center;">财务记账</div><div class="t" style="left:273.50px;top:838.19px;font-size:17px;line-height:19.2px;color:#111;font-weight:500;letter-spacing:0px;width:400px;text-align:center;">日结/月结<br>信息</div><div class="t" style="left:537.50px;top:704.94px;font-size:17px;line-height:19.5px;color:#111;font-weight:500;letter-spacing:0px;width:400px;text-align:center;">营收订单</div><div class="t" style="left:943.30px;top:704.94px;font-size:17px;line-height:19.5px;color:#111;font-weight:500;letter-spacing:0px;width:400px;text-align:center;">渠道对账单</div><div class="t" style="left:742.50px;top:690.24px;font-size:17px;line-height:19.5px;color:#111;font-weight:500;letter-spacing:0px;width:400px;text-align:center;">交易<br>核对</div><div class="t" style="left:742.70px;top:764.44px;font-size:17px;line-height:19.5px;color:#111;font-weight:500;letter-spacing:0px;width:400px;text-align:center;">差异处理</div><div class="t" style="left:742.70px;top:802.44px;font-size:17px;line-height:19.5px;color:#111;font-weight:500;letter-spacing:0px;width:400px;text-align:center;">编制约调节表</div><div class="t" style="left:475.05px;top:918.74px;font-size:17px;line-height:19.5px;color:#111;font-weight:500;letter-spacing:0px;width:400px;text-align:center;">复核对<br>账情况</div><div class="t" style="left:574.75px;top:908.04px;font-size:17px;line-height:19.5px;color:#111;font-weight:500;letter-spacing:0px;width:400px;text-align:center;">复核<br>余额<br>调节表</div><div class="t" style="left:675.20px;top:918.74px;font-size:17px;line-height:19.5px;color:#111;font-weight:500;letter-spacing:0px;width:400px;text-align:center;">欠缴款<br>分析</div><div class="t" style="left:815.05px;top:913.59px;font-size:17px;line-height:19.2px;color:#111;font-weight:500;letter-spacing:0px;width:400px;text-align:center;">应收<br>导入<br>第三方</div><div class="t" style="left:914.75px;top:913.59px;font-size:17px;line-height:19.2px;color:#111;font-weight:500;letter-spacing:0px;width:400px;text-align:center;">实收<br>导入<br>第三方</div><div class="t" style="left:1015.20px;top:913.59px;font-size:17px;line-height:19.2px;color:#111;font-weight:500;letter-spacing:0px;width:400px;text-align:center;">调节表<br>导入<br>第三方</div><div class="t" style="left:526.80px;top:1063.44px;font-size:17px;line-height:19.5px;color:#111;font-weight:500;letter-spacing:0px;width:400px;text-align:center;">差异类型分析</div><div class="t" style="left:742.55px;top:1063.44px;font-size:17px;line-height:19.5px;color:#111;font-weight:500;letter-spacing:0px;width:400px;text-align:center;">稽核日报表</div><div class="t" style="left:958.40px;top:1063.44px;font-size:17px;line-height:19.5px;color:#111;font-weight:500;letter-spacing:0px;width:400px;text-align:center;">欠款/尾款报表</div><div class="t" style="left:473.65px;top:1169.94px;font-size:17px;line-height:18.5px;color:#111;font-weight:500;letter-spacing:0px;width:400px;text-align:center;">区域<br>管理</div><div class="t" style="left:581.15px;top:1169.94px;font-size:17px;line-height:18.5px;color:#111;font-weight:500;letter-spacing:0px;width:400px;text-align:center;">商户<br>管理</div><div class="t" style="left:688.65px;top:1169.94px;font-size:17px;line-height:18.5px;color:#111;font-weight:500;letter-spacing:0px;width:400px;text-align:center;">角色<br>权限</div><div class="t" style="left:796.15px;top:1169.94px;font-size:17px;line-height:18.5px;color:#111;font-weight:500;letter-spacing:0px;width:400px;text-align:center;">稽核<br>规则</div><div class="t" style="left:903.65px;top:1169.94px;font-size:17px;line-height:18.5px;color:#111;font-weight:500;letter-spacing:0px;width:400px;text-align:center;">清分<br>规则</div><div class="t" style="left:1011.15px;top:1169.94px;font-size:17px;line-height:18.5px;color:#111;font-weight:500;letter-spacing:0px;width:400px;text-align:center;">接口<br>管理</div><div class="t" style="left:1193.40px;top:717.64px;font-size:17px;line-height:19.5px;color:#111;font-weight:500;letter-spacing:0px;width:400px;text-align:center;">扫码支付</div><div class="t" style="left:1193.40px;top:769.74px;font-size:17px;line-height:19.5px;color:#111;font-weight:500;letter-spacing:0px;width:400px;text-align:center;">智能POS</div><div class="t" style="left:1193.40px;top:822.24px;font-size:17px;line-height:19.5px;color:#111;font-weight:500;letter-spacing:0px;width:400px;text-align:center;">公众号支付</div><div class="t" style="left:1193.40px;top:874.74px;font-size:17px;line-height:19.5px;color:#111;font-weight:500;letter-spacing:0px;width:400px;text-align:center;">汇收款</div><div class="t" style="left:1193.40px;top:927.44px;font-size:17px;line-height:19.5px;color:#111;font-weight:500;letter-spacing:0px;width:400px;text-align:center;">APP收款</div><div class="t" style="left:1193.40px;top:979.94px;font-size:17px;line-height:19.5px;color:#111;font-weight:500;letter-spacing:0px;width:400px;text-align:center;">扫码支付</div><div class="t" style="left:1340.70px;top:717.64px;font-size:17px;line-height:19.5px;color:#111;font-weight:500;letter-spacing:0px;width:400px;text-align:center;">扫码支付</div><div class="t" style="left:1340.70px;top:769.74px;font-size:17px;line-height:19.5px;color:#111;font-weight:500;letter-spacing:0px;width:400px;text-align:center;">微信</div><div class="t" style="left:1340.70px;top:821.14px;font-size:17px;line-height:19.5px;color:#111;font-weight:500;letter-spacing:0px;width:400px;text-align:center;">通联</div><div class="t" style="left:1340.70px;top:872.14px;font-size:17px;line-height:19.5px;color:#111;font-weight:500;letter-spacing:0px;width:400px;text-align:center;">快钱</div><div class="t" style="left:1340.70px;top:924.04px;font-size:17px;line-height:19.5px;color:#111;font-weight:500;letter-spacing:0px;width:400px;text-align:center;">壹钱包</div><div class="t" style="left:1340.70px;top:975.64px;font-size:17px;line-height:19.5px;color:#111;font-weight:500;letter-spacing:0px;width:400px;text-align:center;">银联商务</div><div class="t" style="left:1340.70px;top:1027.14px;font-size:17px;line-height:19.5px;color:#111;font-weight:500;letter-spacing:0px;width:400px;text-align:center;">......</div><div class="t" style="left:881.00px;top:1338.60px;font-size:40px;line-height:40px;color:#24262c;font-weight:350;letter-spacing:4.3px;">价值体现</div><div class="t" style="left:424.00px;top:1674.00px;font-size:20px;line-height:20px;color:#333;font-weight:normal;letter-spacing:2px;">加强资金监控，提高资金使用效率</div><div class="t" style="left:424.00px;top:1724.20px;font-size:20px;line-height:20px;color:#333;font-weight:normal;letter-spacing:2px;">提高风险预警能力，提升响应能力</div><div class="t" style="left:424.00px;top:1774.40px;font-size:20px;line-height:20px;color:#333;font-weight:normal;letter-spacing:2px;">提高企业应收稽核管理，降低资金风险</div><div class="t" style="left:424.00px;top:1824.60px;font-size:20px;line-height:20px;color:#333;font-weight:normal;letter-spacing:2px;">降低手工作业差错率，提高人工效能</div><div class="t" style="left:424.00px;top:1874.80px;font-size:20px;line-height:20px;color:#333;font-weight:normal;letter-spacing:2px;">降低企业融资成本,优化企业融资渠道</div><div class="t" style="left:424.00px;top:1925.00px;font-size:20px;line-height:20px;color:#333;font-weight:normal;letter-spacing:2px;">实现集中付款管理，结算中心集中管理，降低资金风险</div><div class="t" style="left:681.00px;top:2217.50px;font-size:40px;line-height:40px;color:#24262c;font-weight:350;letter-spacing:3.9px;">优财服务体系为项目保驾护航</div><div class="t" style="left:278.00px;top:2372.16px;font-size:28px;line-height:28px;color:#222;font-weight:normal;letter-spacing:3.2px;">服务范围</div><div class="t" style="left:278.00px;top:2427.61px;font-size:19.5px;line-height:35.5px;color:#444;font-weight:normal;letter-spacing:1.3px;">服务覆盖全国省份100%，快速<br>响应客户需求</div><div class="t" style="left:640.50px;top:2372.16px;font-size:28px;line-height:28px;color:#222;font-weight:normal;letter-spacing:3.2px;">服务体系</div><div class="t" style="left:640.50px;top:2427.61px;font-size:19.5px;line-height:35.5px;color:#444;font-weight:normal;letter-spacing:1.3px;">售后与技术支持通过了国际服务<br>质量体系认证</div><div class="t" style="left:1003.00px;top:2372.16px;font-size:28px;line-height:28px;color:#222;font-weight:normal;letter-spacing:3.2px;">实施团队</div><div class="t" style="left:1003.00px;top:2427.61px;font-size:19.5px;line-height:35.5px;color:#444;font-weight:normal;letter-spacing:1.3px;">本地化服务团队，快速响应客户<br>服务需求</div><div class="t" style="left:1365.50px;top:2372.16px;font-size:28px;line-height:28px;color:#222;font-weight:normal;letter-spacing:3.2px;">售后服务</div><div class="t" style="left:1365.50px;top:2427.61px;font-size:19.5px;line-height:35.5px;color:#444;font-weight:normal;letter-spacing:1.3px;">总裁办24小时投诉热线，客户的<br>声音直达高层</div>
<svg class="full" width="1928" height="2677" viewBox="0 0 1928 2677">

</svg>
</body></html>
